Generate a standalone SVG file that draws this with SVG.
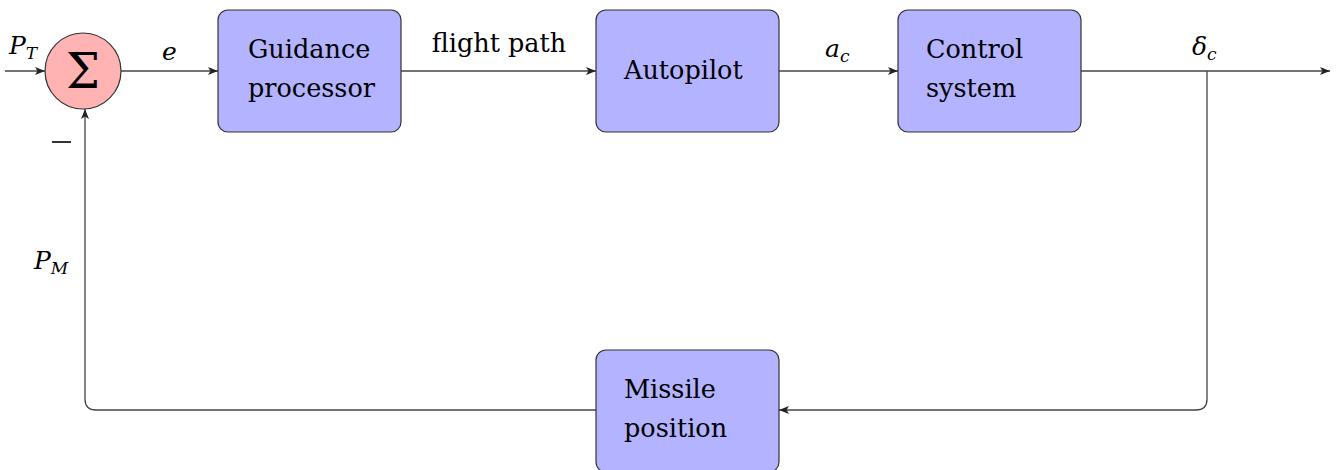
<svg xmlns="http://www.w3.org/2000/svg" width="1339" height="470" viewBox="0 0 1339 470">
<style>
.box{fill:#b3b3ff;stroke:#333;stroke-width:1.2}
.t{font-family:"DejaVu Serif","Liberation Serif",serif;font-size:25.5px;fill:#000}
.m{font-family:"DejaVu Serif","Liberation Serif",serif;font-style:italic;font-size:25px;fill:#000}
.s{font-size:17px}
.ln{fill:none;stroke:#444;stroke-width:1.3}
</style>
<defs>
<marker id="ar" viewBox="0 0 10 8" refX="10" refY="4" markerWidth="10" markerHeight="8" markerUnits="userSpaceOnUse" orient="auto">
<path d="M0,0 L10,4 L0,8 L2.5,4 Z" fill="#222"/>
</marker>
</defs>
<g id="connectors">
<path class="ln" d="M5,71 H45" marker-end="url(#ar)"/>
<path class="ln" d="M121,71 H218" marker-end="url(#ar)"/>
<path class="ln" d="M401,71 H596" marker-end="url(#ar)"/>
<path class="ln" d="M779,71 H898" marker-end="url(#ar)"/>
<path class="ln" d="M1081,71 H1330" marker-end="url(#ar)"/>
<path class="ln" d="M1207,71 V399 Q1207,410 1196,410 H779" marker-end="url(#ar)"/>
<path class="ln" d="M596,410 H96 Q85,410 85,399 V109" marker-end="url(#ar)"/>
<text class="m" x="9" y="54">P<tspan class="s" dy="5">T</tspan></text>
<text class="m" x="162" y="60">e</text>
<text class="t" x="499" y="52" text-anchor="middle">flight path</text>
<text class="m" x="825" y="57">a<tspan class="s" dy="5">c</tspan></text>
<text class="m" x="1192" y="55">δ<tspan class="s" dy="5">c</tspan></text>
<line x1="52" y1="142" x2="71" y2="142" stroke="#000" stroke-width="1.6"/>
<text class="m" x="34" y="269">P<tspan class="s" dy="5">M</tspan></text>
</g>
<g id="sum">
<circle cx="83" cy="71" r="38" fill="#ffb3b3" stroke="#333" stroke-width="1.2"/>
<text x="83" y="88" text-anchor="middle" style="font-family:'DejaVu Serif',serif;font-size:48px">Σ</text>
</g>
<g id="guidance">
<rect class="box" x="218" y="10" width="183" height="122" rx="10"/>
<text class="t" x="248" y="58">Guidance</text>
<text class="t" x="248" y="97">processor</text>
</g>
<g id="autopilot">
<rect class="box" x="596" y="10" width="183" height="122" rx="10"/>
<text class="t" x="624" y="79">Autopilot</text>
</g>
<g id="control">
<rect class="box" x="898" y="10" width="183" height="122" rx="10"/>
<text class="t" x="926" y="58">Control</text>
<text class="t" x="926" y="97">system</text>
</g>
<g id="missile">
<rect class="box" x="596" y="350" width="183" height="122" rx="10"/>
<text class="t" x="624" y="398">Missile</text>
<text class="t" x="624" y="437">position</text>
</g>
</svg>
